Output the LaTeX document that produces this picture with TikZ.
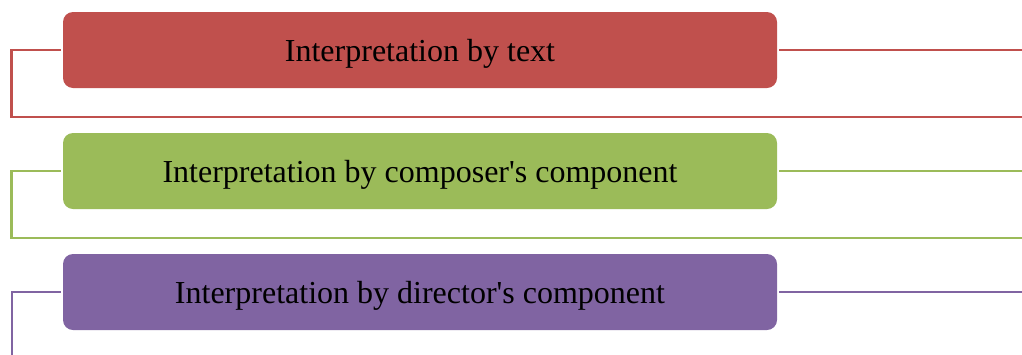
\documentclass[tikz,border=0pt]{standalone}
\usepackage{fontspec}
\setmainfont{Liberation Serif}
\definecolor{cred}{HTML}{C0504D}
\definecolor{cgreen}{HTML}{9BBB59}
\definecolor{cpurple}{HTML}{8064A2}
\begin{document}
\begin{tikzpicture}[x=1pt,y=-1pt,
  bar/.style={rounded corners=10pt, minimum width=714pt, minimum height=76pt, inner sep=0pt,
    text height=22pt, text depth=0pt,
    font=\fontsize{32}{38}\selectfont, text=black, anchor=center},
  link/.style={line width=2.6pt}]
\useasboundingbox (0,0) rectangle (1022,354);
% red
\node[bar, fill=cred] (r) at (420,50) {Interpretation by text};
\coordinate (rl) at (11.5,50);
\coordinate (rb) at (1030,117);
\coordinate (rr) at (1030,50);
\draw[link, cred] ([xshift=-2pt]r.west) -- (rl) |- (rb);
\draw[link, cred] ([xshift=2pt]r.east) -- (rr);
% green
\node[bar, fill=cgreen] (g) at (420,171) {Interpretation by composer\textquotesingle s component};
\coordinate (gl) at (11.5,171);
\coordinate (gb) at (1030,238);
\coordinate (gr) at (1030,171);
\draw[link, cgreen] ([xshift=-2pt]g.west) -- (gl) |- (gb);
\draw[link, cgreen] ([xshift=2pt]g.east) -- (gr);
% purple
\node[bar, fill=cpurple] (p) at (420,292) {Interpretation by director\textquotesingle s component};
\coordinate (pl) at (12,292);
\coordinate (pb) at (12,360);
\coordinate (pr) at (1030,292);
\draw[link, cpurple] ([xshift=-2pt]p.west) -- (pl) -- (pb);
\draw[link, cpurple] ([xshift=2pt]p.east) -- (pr);
\end{tikzpicture}
\end{document}
